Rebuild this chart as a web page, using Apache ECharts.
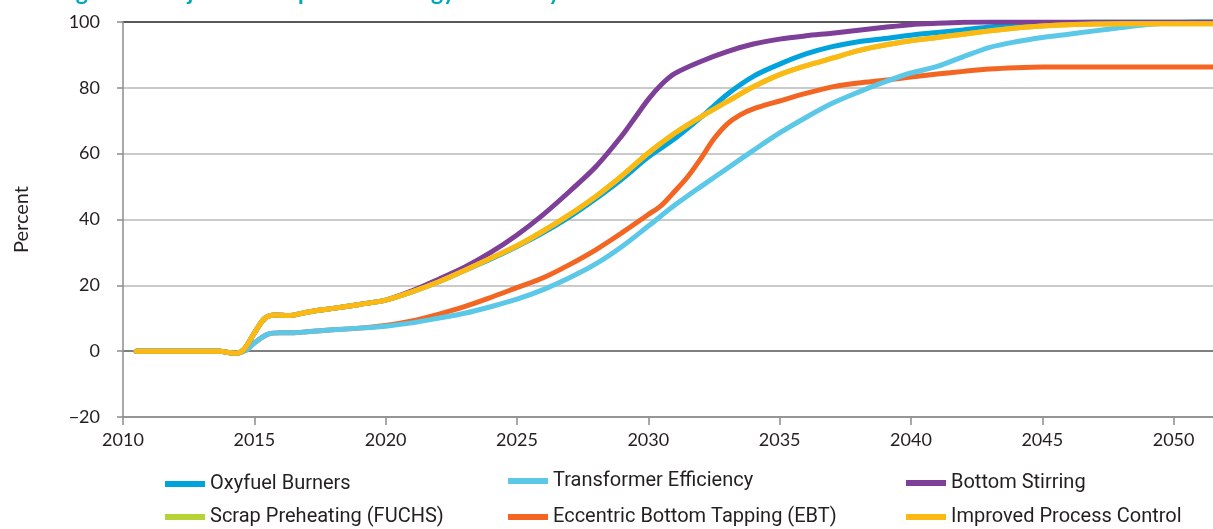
<!DOCTYPE html>
<html>
<head>
<meta charset="utf-8">
<script src="https://cdn.jsdelivr.net/npm/echarts@6/dist/echarts.min.js"></script>
<style>
  html, body { margin: 0; padding: 0; background: #ffffff; }
  #chart { width: 1213px; height: 529px; }
</style>
</head>
<body>
<div id="chart"></div>
<script>
// Adoption share (percent) of each EAF energy-efficiency measure, by year
const seriesNames = [
  'Oxyfuel Burners',
  'Transformer Efficiency',
  'Bottom Stirring',
  'Scrap Preheating (FUCHS)',
  'Eccentric Bottom Tapping (EBT)',
  'Improved Process Control'
];

const oxyfuelBurners = [
  [2010.5, 0], [2011, 0], [2012, 0], [2013, 0], [2013.7, 0], [2014, -0.4], [2014.3, -0.6],
  [2014.6, 0.5], [2015, 5.5], [2015.4, 10], [2015.8, 11], [2016.3, 10.8], [2017, 11.8],
  [2018, 13], [2019, 14.2], [2020, 15.5], [2021, 18], [2022, 21], [2023, 24.5], [2024, 28],
  [2025, 31.8], [2026, 36], [2027, 40.8], [2028, 46.3], [2029, 52.3], [2030, 59],
  [2031, 64.5], [2032, 71], [2033, 78], [2034, 83.5], [2035, 87.2], [2036, 90.3],
  [2037, 92.5], [2038, 94], [2039, 95], [2040, 96], [2041, 96.8], [2042, 97.6],
  [2043, 98.5], [2044, 99.2], [2045, 99.6], [2047, 100], [2051.5, 100]
];

const transformerEfficiency = [
  [2010.5, 0], [2011, 0], [2012, 0], [2013, 0], [2013.7, 0], [2014, -0.4], [2014.3, -0.6],
  [2014.7, 0.3], [2015, 2.5], [2015.5, 5.1], [2016, 5.6], [2016.5, 5.6], [2017, 5.9],
  [2018, 6.5], [2019, 7], [2020, 7.6], [2021, 8.6], [2022, 10], [2023, 11.5], [2024, 13.5],
  [2025, 15.8], [2026, 18.7], [2027, 22.3], [2028, 26.5], [2029, 31.8], [2030, 38],
  [2031, 44.3], [2032, 50], [2033, 55.5], [2034, 61], [2035, 66.3], [2036, 71], [2037, 75.3],
  [2038, 78.7], [2039, 81.8], [2040, 84.5], [2041, 86.5], [2042, 89.5], [2043, 92.3],
  [2044, 94], [2045, 95.3], [2046, 96.3], [2047, 97.3], [2048, 98.3], [2049, 99.2],
  [2050, 99.8], [2051.5, 100.3]
];

const bottomStirring = [
  [2010.5, 0], [2011, 0], [2012, 0], [2013, 0], [2013.7, 0], [2014, -0.4], [2014.3, -0.6],
  [2014.6, 0.5], [2015, 5.5], [2015.4, 10], [2015.8, 11], [2016.3, 10.8], [2017, 11.8],
  [2018, 13], [2019, 14.2], [2020, 15.5], [2021, 18.3], [2022, 21.8], [2023, 25.5],
  [2024, 30], [2025, 35.3], [2026, 41.5], [2027, 48.5], [2028, 56], [2029, 65.5],
  [2029.5, 71], [2030, 76.5], [2030.5, 81], [2031, 84.3], [2032, 88], [2033, 91],
  [2034, 93.3], [2035, 94.8], [2036, 95.8], [2037, 96.6], [2038, 97.5], [2039, 98.4],
  [2040, 99.2], [2041, 99.6], [2042, 99.9], [2043, 100], [2051.5, 100]
];

const scrapPreheating = [
  [2010.5, 0], [2011, 0], [2012, 0], [2013, 0], [2013.7, 0], [2014, -0.4], [2014.3, -0.6],
  [2014.6, 0.5], [2015, 5.5], [2015.4, 10], [2015.8, 11], [2016.3, 10.8], [2017, 11.8],
  [2018, 13], [2019, 14.2], [2020, 15.5], [2021, 18], [2022, 21], [2023, 24.5], [2024, 28.2],
  [2025, 32], [2026, 36.5], [2027, 41.5], [2028, 47], [2029, 53.3], [2030, 60.2],
  [2031, 66.2], [2032, 71.2], [2033, 75.8], [2034, 80.3], [2035, 84], [2036, 86.7],
  [2037, 89], [2038, 91.3], [2039, 93], [2040, 94.3], [2041, 95.3], [2042, 96.3],
  [2043, 97.3], [2044, 98.2], [2045, 98.8], [2046, 99.2], [2047, 99.4], [2048, 99.5],
  [2051.5, 99.5]
];

const eccentricBottomTapping = [
  [2010.5, 0], [2011, 0], [2012, 0], [2013, 0], [2013.7, 0], [2014, -0.4], [2014.3, -0.6],
  [2014.7, 0.3], [2015, 2.5], [2015.5, 5.1], [2016, 5.6], [2016.5, 5.6], [2017, 5.9],
  [2018, 6.5], [2019, 7], [2020, 7.8], [2021, 9.2], [2022, 11.2], [2023, 13.5], [2024, 16.3],
  [2025, 19.3], [2026, 22.3], [2027, 26.3], [2028, 30.8], [2029, 36], [2030, 41.5],
  [2030.5, 44.3], [2031, 48.5], [2031.5, 53], [2032, 58.5], [2032.5, 64.5], [2033, 69],
  [2033.5, 71.8], [2034, 73.6], [2035, 76], [2036, 78.3], [2037, 80.3], [2038, 81.5],
  [2039, 82.3], [2040, 83.3], [2041, 84.2], [2042, 85], [2043, 85.7], [2044, 86.1],
  [2045, 86.3], [2051.5, 86.3]
];

const improvedProcessControl = [
  [2010.5, 0], [2011, 0], [2012, 0], [2013, 0], [2013.7, 0], [2014, -0.4], [2014.3, -0.6],
  [2014.6, 0.5], [2015, 5.5], [2015.4, 10], [2015.8, 11], [2016.3, 10.8], [2017, 11.8],
  [2018, 13], [2019, 14.2], [2020, 15.5], [2021, 18], [2022, 21], [2023, 24.5], [2024, 28.2],
  [2025, 32], [2026, 36.5], [2027, 41.5], [2028, 47], [2029, 53.3], [2030, 60.2],
  [2031, 66.2], [2032, 71.2], [2033, 75.8], [2034, 80.3], [2035, 84], [2036, 86.7],
  [2037, 89], [2038, 91.3], [2039, 93], [2040, 94.3], [2041, 95.3], [2042, 96.3],
  [2043, 97.3], [2044, 98.2], [2045, 98.8], [2046, 99.2], [2047, 99.4], [2048, 99.5],
  [2051.5, 99.5]
];

const yearTicks = [2010, 2015, 2020, 2025, 2030, 2035, 2040, 2045, 2050];
const percentTicks = [-20, 0, 20, 40, 60, 80, 100];

const seriesColors = {
  'Oxyfuel Burners': '#00a3dc',
  'Transformer Efficiency': '#5bc8e8',
  'Bottom Stirring': '#7d3f98',
  'Scrap Preheating (FUCHS)': '#b5d334',
  'Eccentric Bottom Tapping (EBT)': '#f26522',
  'Improved Process Control': '#fdb913'
};

const seriesData = {
  'Oxyfuel Burners': oxyfuelBurners,
  'Transformer Efficiency': transformerEfficiency,
  'Bottom Stirring': bottomStirring,
  'Scrap Preheating (FUCHS)': scrapPreheating,
  'Eccentric Bottom Tapping (EBT)': eccentricBottomTapping,
  'Improved Process Control': improvedProcessControl
};

// stacking order of the lines (later ones are painted on top)
const drawOrder = [
  'Eccentric Bottom Tapping (EBT)',
  'Transformer Efficiency',
  'Oxyfuel Burners',
  'Bottom Stirring',
  'Scrap Preheating (FUCHS)',
  'Improved Process Control'
];

const textFont = 'Lato, "Open Sans", sans-serif';
const legendFont = 'Roboto, "Noto Sans", sans-serif';

// legend entries: one per series, laid out in three columns of two rows
const legendSlots = [
  { name: 'Oxyfuel Burners', left: 165, top: 474 },
  { name: 'Scrap Preheating (FUCHS)', left: 165, top: 507 },
  { name: 'Transformer Efficiency', left: 508, top: 471 },
  { name: 'Eccentric Bottom Tapping (EBT)', left: 508, top: 507 },
  { name: 'Bottom Stirring', left: 906, top: 473 },
  { name: 'Improved Process Control', left: 906, top: 507 }
];

const gridLineColors = ['#9a9a9a', '#555555', '#b8b8b8', '#b8b8b8', '#b8b8b8', '#b8b8b8', '#231f20'];

const chart = echarts.init(document.getElementById('chart'), null, { renderer: 'canvas' });

chart.setOption({
  animation: false,
  backgroundColor: '#ffffff',
  title: {
    text: 'Figure 9: Projected Adoption of Energy Efficiency Measures',
    left: 52,
    top: -24,
    textStyle: {
      color: '#00a9b5',
      fontFamily: textFont,
      fontWeight: 'bold',
      fontSize: 23
    }
  },
  grid: { left: 123, right: 0, top: 22, bottom: 112, containLabel: false },
  legend: legendSlots.map(s => ({
    data: [s.name],
    left: s.left,
    top: s.top,
    icon: 'rect',
    itemWidth: 40,
    itemHeight: 6,
    itemGap: 0,
    padding: 0,
    selectedMode: false,
    textStyle: {
      color: '#231f20',
      fontFamily: legendFont,
      fontSize: 20,
      lineHeight: 20,
      padding: [0, 0, 0, 0]
    }
  })),
  xAxis: {
    type: 'value',
    min: 2010,
    max: 2051.5,
    interval: 5,
    axisLine: { show: true, onZero: false, lineStyle: { color: '#8c8c8c', width: 1.5 } },
    axisTick: {
      show: true,
      length: 8,
      customValues: yearTicks,
      lineStyle: { color: '#8c8c8c', width: 1.5 }
    },
    axisLabel: {
      customValues: yearTicks,
      margin: 14,
      color: '#231f20',
      fontFamily: textFont,
      fontSize: 18,
      formatter: v => String(v)
    },
    splitLine: { show: false }
  },
  yAxis: {
    type: 'value',
    min: -20,
    max: 100,
    interval: 20,
    name: 'Percent',
    nameLocation: 'middle',
    nameGap: 91,
    nameRotate: 90,
    nameTextStyle: { color: '#231f20', fontFamily: textFont, fontSize: 20 },
    axisLine: { show: true, lineStyle: { color: '#8c8c8c', width: 1.5 } },
    axisTick: { show: true, length: 6, lineStyle: { color: '#8c8c8c', width: 1.5 } },
    axisLabel: {
      customValues: percentTicks,
      margin: 23,
      color: '#231f20',
      fontFamily: textFont,
      fontSize: 18,
      formatter: v => (v < 0 ? '\u2212' + Math.abs(v) : String(v))
    },
    splitLine: { show: true, lineStyle: { color: gridLineColors, width: 1.5 } }
  },
  series: drawOrder.map(name => ({
    name: name,
    type: 'line',
    data: seriesData[name],
    showSymbol: false,
    symbol: 'none',
    smooth: 0.3,
    color: seriesColors[name],
    lineStyle: { width: 5, color: seriesColors[name], cap: 'round', join: 'round' },
    emphasis: { disabled: true },
    z: 2
  }))
});
</script>
</body>
</html>
